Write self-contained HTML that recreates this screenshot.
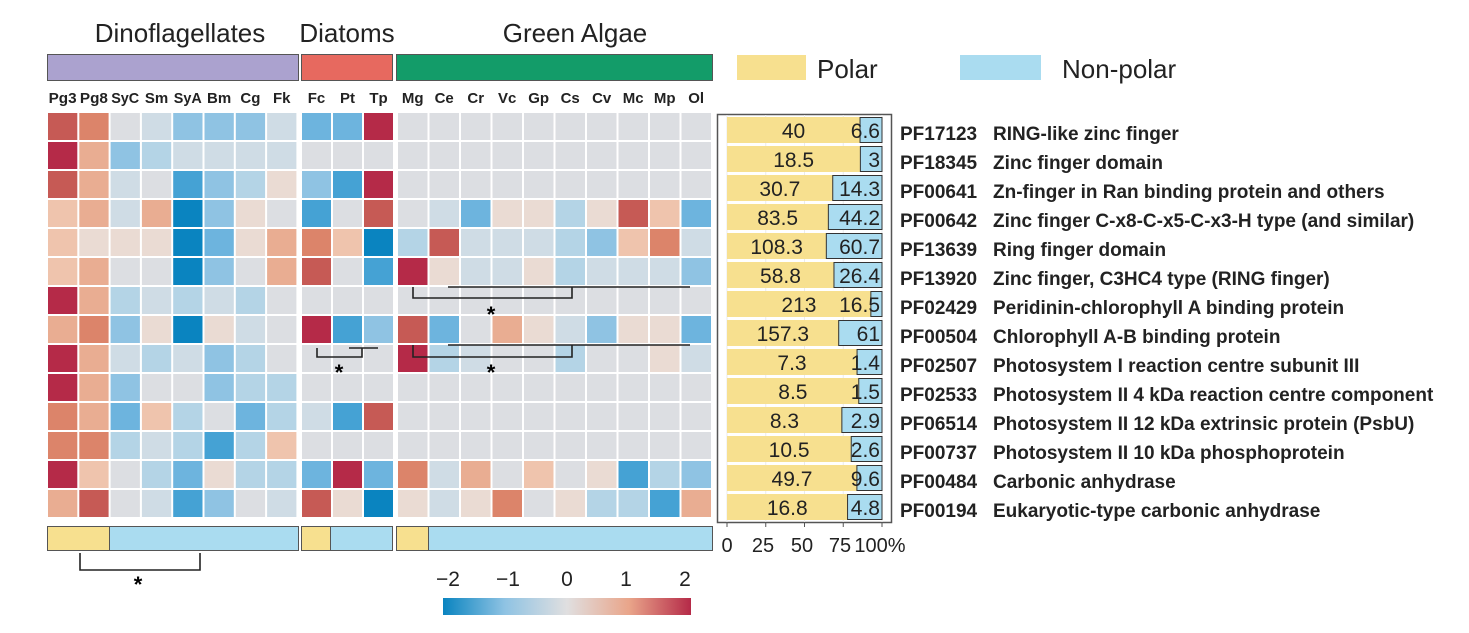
<!DOCTYPE html>
<html><head><meta charset="utf-8"><style>
body{margin:0;background:#fff;width:1469px;height:628px;overflow:hidden;font-family:"Liberation Sans",sans-serif}
</style></head><body>
<svg id="s" width="1469" height="628" xmlns="http://www.w3.org/2000/svg" font-family="Liberation Sans, sans-serif"></svg>
<script>
const C={R:'#b52a48',r:'#c65a55',o:'#dc846a',p:'#e9ad92',q:'#efc4ad',e:'#eadbd3',g:'#dcdee2',l:'#cfdce5',b:'#b4d4e6',m:'#8fc3e3',n:'#6db4de',N:'#45a2d4',B:'#0a84c0'};
const dino=["roglmmmlnnR","Rpmbllllggg","rplgNmbemNR","qplpBmegNgr","qeeeBnepoqB","qpggBmgprgN","Rpblblbgggg","pomeBelgRNm","Rplblmbgggg","Rpmggmbbggg","opnqbgnblNr","ooblbNbqggg","RqgbnebbnRn","prglNmglreB"];
const green=["gggggggggg","gggggggggg","gggggggggg","glneeberqn","brlllbmqol","Relleblllm","gggggggggg","rngpelmeen","Rblggbggel","gggggggggg","gggggggggg","gggggggggg","olpgqgeNbm","eleogebbNp"];
let h='';
const y0=113,rh=29;
function cell(x,y,w,c){h+=`<rect x="${x}" y="${y}" width="${w}" height="${rh-2}" fill="${C[c]}"/>`;}
for(let i=0;i<14;i++){const y=y0+i*rh;
 for(let j=0;j<8;j++)cell(47+j*31.3+1,y,29.3,dino[i][j]);
 for(let j=0;j<3;j++)cell(301+j*31+1,y,29,dino[i][8+j]);
 for(let j=0;j<10;j++)cell(397+j*31.5+1,y,29.5,green[i][j]);
}
h+=`<text x="180" y="42" font-size="26" text-anchor="middle" fill="#222">Dinoflagellates</text>
<text x="347" y="42" font-size="26" text-anchor="middle" fill="#222">Diatoms</text>
<text x="575" y="42" font-size="26" text-anchor="middle" fill="#222">Green Algae</text>
<rect x="47.5" y="54.5" width="251" height="26" fill="#aba2cf" stroke="#555"/>
<rect x="301.5" y="54.5" width="91" height="26" fill="#e7695f" stroke="#555"/>
<rect x="396.5" y="54.5" width="316" height="26" fill="#139c69" stroke="#555"/>`;
function lab(x,c){h+=`<text x="${x}" y="103" font-size="15" font-weight="bold" text-anchor="middle" fill="#222"${c.length>2?' textLength="28" lengthAdjust="spacingAndGlyphs"':''}>${c}</text>`;}
["Pg3","Pg8","SyC","Sm","SyA","Bm","Cg","Fk"].forEach((c,j)=>lab(47+j*31.3+15.6,c));
["Fc","Pt","Tp"].forEach((c,j)=>lab(301+j*31+15.5,c));
["Mg","Ce","Cr","Vc","Gp","Cs","Cv","Mc","Mp","Ol"].forEach((c,j)=>lab(397+j*31.5+15.7,c));
h+=`<rect x="737" y="55" width="69" height="25" fill="#f7e08f"/><text x="817" y="78" font-size="26" fill="#222">Polar</text>
<rect x="960" y="55" width="81" height="25" fill="#aadcf0"/><text x="1062" y="78" font-size="26" fill="#222">Non-polar</text>`;
h+=`<rect x="47.5" y="526.5" width="62" height="24" fill="#f7e08f" stroke="#555"/><rect x="109.5" y="526.5" width="189" height="24" fill="#aadcf0" stroke="#555"/>
<rect x="301.5" y="526.5" width="29" height="24" fill="#f7e08f" stroke="#555"/><rect x="330.5" y="526.5" width="62" height="24" fill="#aadcf0" stroke="#555"/>
<rect x="396.5" y="526.5" width="32" height="24" fill="#f7e08f" stroke="#555"/><rect x="428.5" y="526.5" width="284" height="24" fill="#aadcf0" stroke="#555"/>`;
const st='stroke="#222" stroke-width="1.6" fill="none"';
h+=`<path d="M80 553V570H200V553" ${st}/><text x="138" y="592" font-size="22" text-anchor="middle" font-weight="bold">*</text>
<path d="M317 348V357H362V348 M349 348H378" ${st}/><text x="339" y="380" font-size="22" text-anchor="middle" font-weight="bold">*</text>
<path d="M448 287H690 M413 287V298H572V287" ${st}/><text x="491" y="322" font-size="22" text-anchor="middle" font-weight="bold">*</text>
<path d="M448 345H690 M413 345V357H572V345" ${st}/><text x="491" y="380" font-size="22" text-anchor="middle" font-weight="bold">*</text>`;
h+=`<rect x="717.5" y="114.5" width="174" height="408" fill="#fff" stroke="#555" stroke-width="1.5"/>`;
const x0=727,x1=882,W=x1-x0;
[0,25,50,75,100].forEach(t=>{const x=x0+W*t/100;h+=`<line x1="${x}" y1="115" x2="${x}" y2="522" stroke="#ebebeb"/><line x1="${x}" y1="522" x2="${x}" y2="527" stroke="#555"/>`;});
const data=[[40,6.6],[18.5,3],[30.7,14.3],[83.5,44.2],[108.3,60.7],[58.8,26.4],[213,16.5],[157.3,61],[7.3,1.4],[8.5,1.5],[8.3,2.9],[10.5,2.6],[49.7,9.6],[16.8,4.8]];
const ids=["PF17123","PF18345","PF00641","PF00642","PF13639","PF13920","PF02429","PF00504","PF02507","PF02533","PF06514","PF00737","PF00484","PF00194"];
const desc=["RING-like zinc finger","Zinc finger domain","Zn-finger in Ran binding protein and others","Zinc finger C-x8-C-x5-C-x3-H type (and similar)","Ring finger domain","Zinc finger, C3HC4 type (RING finger)","Peridinin-chlorophyll A binding protein","Chlorophyll A-B binding protein","Photosystem I reaction centre subunit III","Photosystem II 4 kDa reaction centre component","Photosystem II 12 kDa extrinsic protein (PsbU)","Photosystem II 10 kDa phosphoprotein","Carbonic anhydrase","Eukaryotic-type carbonic anhydrase"];
data.forEach((d,i)=>{const y=y0+4+i*rh,f=d[0]/(d[0]+d[1]),xm=x0+W*f;
 h+=`<rect x="${x0}" y="${y}" width="${W}" height="26" fill="#f7e08f"/>
 <rect x="${xm}" y="${y+0.5}" width="${x1-xm}" height="25" fill="#aadcf0" stroke="#333" stroke-width="1"/>
 <text x="${(x0+xm)/2}" y="${y+21}" font-size="21" text-anchor="middle" fill="#222">${d[0]}</text>
 <text x="${x1-2}" y="${y+21}" font-size="21" text-anchor="end" fill="#222">${d[1]}</text>
 <text x="900" y="${y+23}" font-size="19" font-weight="bold" fill="#222">${ids[i]}</text>
 <text x="993" y="${y+23}" font-size="19" font-weight="bold" fill="#222">${desc[i]}</text>`;});
[["0",727],["25",763],["50",802],["75",840],["100%",880]].forEach(([t,x])=>h+=`<text x="${x}" y="552" font-size="20" text-anchor="middle" fill="#222">${t}</text>`);
h+=`<defs><linearGradient id="cg"><stop offset="0" stop-color="#0a84c0"/><stop offset="0.25" stop-color="#8fc3e3"/><stop offset="0.5" stop-color="#e0dfe0"/><stop offset="0.75" stop-color="#e9a58a"/><stop offset="1" stop-color="#b52a48"/></linearGradient></defs>
<rect x="443" y="598" width="248" height="17" fill="url(#cg)"/>`;
[["−2",448],["−1",508],["0",567],["1",626],["2",685]].forEach(([t,x])=>h+=`<text x="${x}" y="586" font-size="21" text-anchor="middle" fill="#222">${t}</text>`);
document.getElementById('s').innerHTML=h;
</script>
</body></html>
